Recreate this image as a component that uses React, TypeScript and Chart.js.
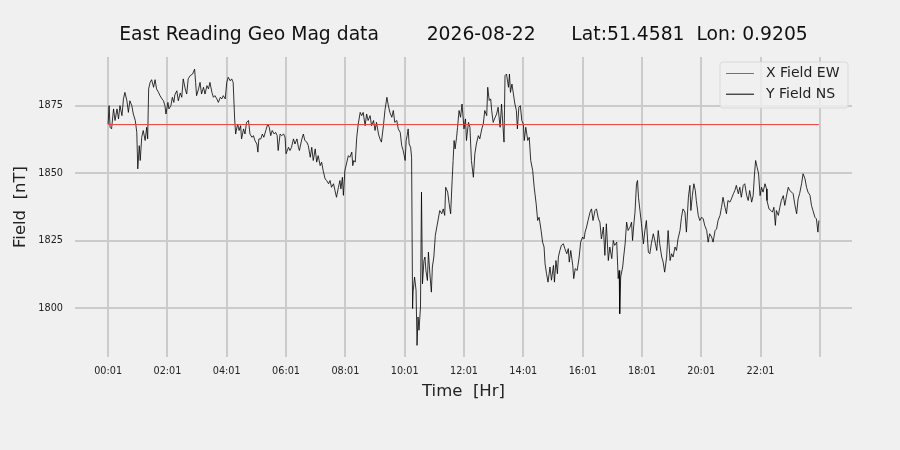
import { useEffect, useRef } from 'react';
import Chart from 'chart.js/auto';

const chartTitle = 'East Reading Geo Mag data        2026-08-22      Lat:51.4581  Lon: 0.9205';
const seriesLabels = ['X Field EW', 'Y Field NS'];

// x axis: minutes of the day, a grid line every two hours from 00:01
const tickMinutes = [1, 121, 241, 361, 481, 601, 721, 841, 961, 1081, 1201, 1321, 1441];
const tickLabels = ['00:01', '02:01', '04:01', '06:01', '08:01', '10:01', '12:01', '14:01', '16:01', '18:01', '20:01', '22:01', ''];
const fieldTicks = [1800, 1825, 1850, 1875];

// X Field EW (flat red trace)
const ewMinutes = [1, 1439];
const ewField = [1868, 1868];

// Y Field NS
const nsMinutes = [
  1, 3, 5, 8, 12, 15, 19, 22, 25, 29, 32, 35, 39, 42, 45, 49, 52, 56, 59, 61,
  64, 66, 69, 72, 76, 79, 81, 83, 86, 89, 93, 96, 99, 103, 106, 110, 113, 116, 118, 122,
  124, 128, 131, 134, 136, 140, 143, 147, 150, 153, 157, 160, 163, 167, 172, 176, 178, 180, 184, 187,
  190, 194, 197, 201, 204, 207, 211, 214, 217, 221, 224, 228, 231, 234, 238, 241, 244, 248, 251, 254,
  257, 259, 263, 266, 269, 271, 275, 278, 281, 285, 288, 292, 295, 298, 302, 304, 306, 310, 313, 316,
  320, 324, 327, 330, 333, 337, 340, 343, 345, 349, 352, 356, 359, 361, 366, 369, 372, 376, 379, 383,
  386, 388, 393, 396, 399, 403, 406, 410, 413, 416, 420, 423, 426, 430, 433, 436, 440, 443, 447, 450,
  453, 457, 460, 463, 467, 470, 472, 475, 477, 480, 484, 487, 490, 494, 496, 498, 501, 504, 507, 511,
  514, 517, 521, 524, 527, 531, 534, 538, 541, 544, 548, 551, 554, 558, 561, 565, 568, 571, 575, 578,
  581, 585, 588, 592, 595, 598, 602, 604, 606, 608, 610, 613, 615, 617, 618, 621, 624, 626, 628, 630,
  633, 635, 637, 640, 642, 644, 647, 649, 652, 655, 657, 660, 663, 666, 669, 672, 676, 679, 682, 684,
  688, 691, 694, 697, 699, 701, 703, 706, 708, 711, 714, 717, 721, 724, 726, 730, 733, 736, 740, 743,
  746, 750, 753, 757, 760, 763, 767, 769, 772, 775, 777, 780, 784, 787, 790, 794, 797, 800, 802, 804,
  807, 811, 813, 815, 818, 821, 824, 827, 829, 832, 835, 838, 841, 843, 846, 850, 853, 856, 860, 863,
  867, 870, 873, 877, 880, 883, 885, 888, 891, 895, 898, 902, 904, 907, 910, 912, 915, 918, 922, 925,
  929, 932, 934, 937, 941, 943, 946, 950, 954, 957, 961, 964, 966, 969, 972, 976, 979, 982, 986, 989,
  993, 996, 999, 1003, 1006, 1009, 1013, 1016, 1020, 1023, 1026, 1030, 1033, 1035, 1036, 1038, 1042, 1044, 1047, 1050,
  1053, 1057, 1060, 1062, 1065, 1067, 1070, 1072, 1074, 1077, 1080, 1084, 1087, 1090, 1094, 1097, 1100, 1104, 1107, 1111,
  1114, 1117, 1121, 1124, 1127, 1131, 1134, 1138, 1141, 1144, 1148, 1151, 1154, 1158, 1161, 1164, 1168, 1171, 1175, 1178,
  1180, 1183, 1186, 1189, 1191, 1195, 1198, 1202, 1205, 1208, 1212, 1215, 1218, 1222, 1225, 1229, 1232, 1235, 1239, 1242,
  1245, 1249, 1252, 1255, 1259, 1262, 1266, 1269, 1272, 1276, 1279, 1282, 1286, 1289, 1293, 1296, 1299, 1303, 1306, 1309,
  1311, 1314, 1317, 1320, 1323, 1326, 1330, 1333, 1334, 1338, 1342, 1345, 1348, 1351, 1353, 1357, 1360, 1363, 1367, 1370,
  1373, 1377, 1380, 1384, 1387, 1390, 1394, 1397, 1400, 1404, 1407, 1411, 1414, 1417, 1421, 1424, 1427, 1431, 1434, 1437,
  1439,
];
const nsField = [
  1868.2, 1875.0, 1867.0, 1866.4, 1873.8, 1869.5, 1873.8, 1870.1, 1875.0, 1871.3, 1877.5, 1879.9, 1876.8, 1872.5, 1876.8, 1875.0, 1871.9, 1869.5, 1865.1, 1851.6,
  1860.2, 1854.7, 1863.3, 1865.8, 1862.1, 1867.0, 1862.7, 1881.2, 1883.6, 1884.6, 1881.8, 1884.6, 1881.2, 1879.9, 1878.7, 1877.5, 1876.8, 1875.0, 1871.9, 1876.2,
  1873.8, 1875.0, 1878.1, 1876.2, 1879.0, 1880.5, 1876.8, 1879.7, 1878.1, 1884.9, 1881.2, 1879.3, 1884.9, 1886.1, 1886.7, 1888.5, 1883.6, 1878.7, 1881.2, 1883.6,
  1879.3, 1881.8, 1879.3, 1882.4, 1881.2, 1883.6, 1879.9, 1878.1, 1878.7, 1877.5, 1876.2, 1878.1, 1877.5, 1878.7, 1877.5, 1883.6, 1885.5, 1884.2, 1884.9, 1883.6,
  1870.1, 1864.5, 1868.2, 1865.8, 1867.6, 1862.7, 1866.4, 1864.5, 1868.8, 1869.5, 1864.5, 1863.3, 1863.9, 1862.1, 1860.8, 1857.8, 1862.7, 1862.7, 1864.5, 1863.3,
  1865.8, 1868.2, 1867.0, 1863.9, 1865.8, 1864.5, 1865.1, 1863.9, 1858.4, 1864.5, 1863.9, 1864.5, 1863.3, 1857.2, 1859.6, 1858.4, 1859.6, 1862.7, 1860.8, 1862.7,
  1859.6, 1858.4, 1862.7, 1864.5, 1862.1, 1861.5, 1860.2, 1855.9, 1859.6, 1854.7, 1859.0, 1854.1, 1856.5, 1852.8, 1854.1, 1851.0, 1847.9, 1847.3, 1846.1, 1847.3,
  1844.8, 1846.1, 1843.6, 1841.1, 1844.8, 1847.3, 1844.2, 1848.5, 1841.8, 1851.0, 1854.1, 1856.5, 1855.9, 1857.8, 1852.8, 1854.7, 1854.1, 1863.3, 1868.2, 1872.5,
  1871.3, 1872.5, 1867.6, 1871.9, 1869.5, 1871.3, 1867.6, 1869.5, 1865.8, 1868.8, 1864.5, 1862.7, 1861.5, 1867.6, 1873.2, 1878.1, 1875.0, 1872.5, 1870.7, 1873.2,
  1868.8, 1869.5, 1866.4, 1865.1, 1860.2, 1858.4, 1854.7, 1862.1, 1863.9, 1866.4, 1860.8, 1859.6, 1855.9, 1799.9, 1806.0, 1811.6, 1806.7, 1786.3, 1796.8, 1791.9,
  1800.5, 1843.0, 1809.1, 1817.7, 1819.0, 1814.0, 1810.3, 1820.8, 1812.8, 1806.0, 1815.3, 1819.0, 1827.0, 1830.1, 1833.1, 1836.2, 1835.0, 1836.8, 1834.4, 1844.8,
  1843.0, 1838.7, 1835.0, 1847.3, 1854.7, 1862.1, 1859.0, 1863.3, 1867.0, 1873.2, 1870.7, 1875.6, 1866.4, 1870.1, 1862.1, 1868.8, 1867.0, 1854.7, 1848.5, 1857.2,
  1860.8, 1863.9, 1862.7, 1866.4, 1868.2, 1873.2, 1871.3, 1881.8, 1876.9, 1877.5, 1873.2, 1868.8, 1870.7, 1871.9, 1874.4, 1867.0, 1875.6, 1867.0, 1861.5, 1886.1,
  1886.7, 1881.8, 1886.7, 1879.9, 1883.0, 1879.3, 1875.6, 1873.2, 1866.4, 1874.4, 1875.0, 1869.5, 1868.2, 1862.1, 1867.0, 1862.1, 1863.3, 1854.7, 1851.0, 1844.8,
  1838.7, 1832.5, 1833.7, 1828.8, 1824.5, 1822.7, 1816.5, 1812.8, 1809.7, 1815.3, 1810.4, 1815.9, 1809.7, 1817.7, 1812.8, 1819.0, 1821.4, 1823.3, 1823.9, 1822.1,
  1820.2, 1822.1, 1817.1, 1821.4, 1815.9, 1811.0, 1814.7, 1814.0, 1819.0, 1824.5, 1826.4, 1825.7, 1828.2, 1830.1, 1832.5, 1835.6, 1836.8, 1832.5, 1836.2, 1836.8,
  1833.1, 1831.9, 1825.7, 1830.1, 1819.6, 1831.3, 1817.7, 1822.7, 1818.4, 1825.1, 1823.3, 1824.5, 1811.0, 1814.0, 1798.0, 1811.6, 1815.3, 1819.0, 1823.9, 1831.9,
  1828.8, 1830.1, 1831.9, 1825.1, 1831.9, 1835.6, 1846.1, 1847.3, 1841.1, 1836.2, 1831.3, 1823.9, 1828.8, 1832.5, 1820.8, 1820.2, 1823.9, 1827.6, 1825.1, 1821.4,
  1828.8, 1823.9, 1819.0, 1817.1, 1813.4, 1819.0, 1828.8, 1817.7, 1820.2, 1819.0, 1822.7, 1821.4, 1825.7, 1828.8, 1833.7, 1836.8, 1835.6, 1828.2, 1841.1, 1845.5,
  1836.2, 1841.7, 1846.1, 1843.6, 1839.9, 1834.4, 1832.5, 1833.7, 1833.1, 1830.7, 1828.8, 1824.5, 1827.6, 1826.4, 1824.5, 1828.8, 1829.4, 1832.5, 1834.4, 1837.4,
  1841.1, 1837.4, 1835.0, 1839.9, 1839.3, 1840.5, 1842.4, 1843.6, 1845.5, 1842.4, 1844.8, 1841.1, 1845.5, 1846.1, 1841.7, 1839.9, 1843.6, 1839.3, 1841.7, 1850.4,
  1854.7, 1852.2, 1849.8, 1841.7, 1844.8, 1843.0, 1846.1, 1844.2, 1839.9, 1836.8, 1836.2, 1835.6, 1837.4, 1830.7, 1836.2, 1834.4, 1837.4, 1839.9, 1841.7, 1838.1,
  1841.1, 1844.8, 1843.6, 1843.0, 1842.4, 1838.7, 1835.0, 1840.5, 1842.4, 1846.1, 1849.8, 1847.9, 1844.8, 1843.0, 1841.8, 1838.1, 1836.2, 1833.7, 1833.1, 1828.2,
  1832.5,
];

const font = 'DejaVu Sans';
const textColor = '#222222';
const gridColor = '#cbcbcb';

// matplotlib-style legend box in the top right corner of the plot
const legendBox = {
  id: 'legendBox',
  afterDraw(chart: Chart) {
    const { ctx, chartArea } = chart;
    const w = 128;
    const h = 46;
    const x = chartArea.right - 4 - w;
    const y = chartArea.top + 5;
    ctx.save();
    ctx.beginPath();
    ctx.roundRect(x, y, w, h, 3);
    ctx.fillStyle = 'rgba(240,240,240,0.8)';
    ctx.fill();
    ctx.strokeStyle = '#d9d9d9';
    ctx.lineWidth = 1;
    ctx.stroke();
    chart.data.datasets.forEach((ds: any, i: number) => {
      const ly = y + 11.5 + i * 20.7;
      ctx.beginPath();
      ctx.moveTo(x + 6, ly);
      ctx.lineTo(x + 34, ly);
      ctx.strokeStyle = ds.borderColor;
      ctx.lineWidth = 1;
      ctx.stroke();
      ctx.fillStyle = textColor;
      ctx.font = `14px "${font}"`;
      ctx.textBaseline = 'middle';
      ctx.fillText(ds.label, x + 46, ly);
    });
    ctx.restore();
  },
};

export default function App() {
  const chartRef = useRef<HTMLCanvasElement>(null);
  const chartInstance = useRef<Chart | null>(null);

  useEffect(() => {
    document.body.style.margin = '0';
    document.body.style.background = '#f0f0f0';
    if (!chartRef.current) return;

    if (chartInstance.current) {
      chartInstance.current.destroy();
    }

    const ctx = chartRef.current.getContext('2d');
    if (!ctx) return;

    chartInstance.current = new Chart(ctx, {
      type: 'line',
      data: {
        datasets: [
          {
            label: seriesLabels[0],
            data: ewMinutes.map((m, i) => ({ x: m, y: ewField[i] })),
            borderColor: '#f03c3c',
            borderWidth: 1,
            pointRadius: 0,
          },
          {
            label: seriesLabels[1],
            data: nsMinutes.map((m, i) => ({ x: m, y: nsField[i] })),
            borderColor: '#000000',
            borderWidth: 0.8,
            pointRadius: 0,
          },
        ],
      },
      options: {
        responsive: false,
        animation: false,
        events: [],
        layout: { padding: { left: 0, right: 48, top: 0, bottom: 0 } },
        plugins: {
          legend: { display: false },
          tooltip: { enabled: false },
          title: {
            display: true,
            text: chartTitle,
            fullSize: false,
            color: '#111111',
            font: { family: font, size: 18.75, weight: 'normal' },
            padding: { top: 24.2, bottom: 10.3 },
          },
        },
        scales: {
          x: {
            type: 'linear',
            min: -66,
            max: 1506,
            afterBuildTicks: (scale: any) => {
              scale.ticks = tickMinutes.map((v) => ({ value: v }));
            },
            afterFit: (scale: any) => {
              scale.height = 93;
            },
            ticks: {
              autoSkip: false,
              maxRotation: 0,
              padding: 9,
              color: textColor,
              font: { family: font, size: 9.7 },
              callback: (v: any) => tickLabels[tickMinutes.indexOf(Number(v))] ?? '',
            },
            grid: { color: gridColor, lineWidth: 2, drawTicks: false },
            border: { display: false },
            title: {
              display: true,
              text: 'Time  [Hr]',
              color: textColor,
              font: { family: font, size: 16.5 },
              padding: { top: 0, bottom: 48 },
            },
          },
          y: {
            min: 1782,
            max: 1893,
            afterBuildTicks: (scale: any) => {
              scale.ticks = fieldTicks.map((v) => ({ value: v }));
            },
            afterFit: (scale: any) => {
              scale.width = 75;
            },
            ticks: {
              padding: 12,
              color: textColor,
              font: { family: font, size: 9.7 },
              callback: (v: any) => String(v),
            },
            grid: { color: gridColor, lineWidth: 2, drawTicks: false },
            border: { display: false },
            title: {
              display: true,
              text: 'Field  [nT]',
              color: textColor,
              font: { family: font, size: 16.5 },
              padding: { top: 11, bottom: 0 },
            },
          },
        },
      },
      plugins: [legendBox],
    });

    return () => {
      if (chartInstance.current) {
        chartInstance.current.destroy();
        chartInstance.current = null;
      }
    };
  }, []);

  return (
    <div style={{ width: 900, height: 450, background: '#f0f0f0' }}>
      <canvas ref={chartRef} width={900} height={450} />
    </div>
  );
}
